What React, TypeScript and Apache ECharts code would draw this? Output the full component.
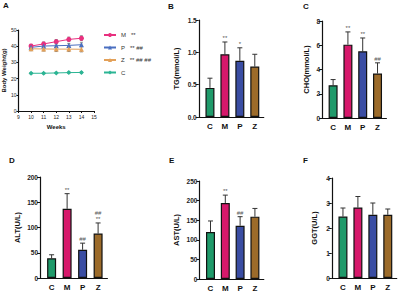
import React, { useEffect, useRef } from 'react';
import * as echarts from 'echarts';

// ---------- Panel A data ----------
const weeks = [10, 11, 12, 13, 14];
const weightM = [40.1, 41.4, 42.8, 44.2, 44.9];
const weightP = [39.3, 40.1, 40.3, 40.5, 40.9];
const weightZ = [38.4, 38.3, 38.2, 38.2, 38.1];
const weightC = [23.3, 23.3, 23.5, 23.7, 23.8];
const errM = [1.0, 1.2, 1.3, 1.4, 1.5];
const errP = [0.9, 1.0, 1.1, 1.1, 1.2];
const errZ = [1.2, 1.3, 1.5, 1.5, 1.6];
const errC = [0.4, 0.4, 0.4, 0.4, 0.4];
const lineNames = ['M', 'P', 'Z', 'C'];
const lineMarks = ['**', '** ##', '** ## ##', ''];

// ---------- Bar panels data ----------
const cats = ['C', 'M', 'P', 'Z'];
const tgMean = [0.45, 0.97, 0.87, 0.78];
const tgTop = [0.6, 1.16, 1.07, 0.97];
const tgSig = ['', '**', '*', ''];
const choMean = [2.7, 6.05, 5.5, 3.67];
const choTop = [3.17, 7.1, 6.6, 4.55];
const choSig = ['', '**', '**', '##'];
const altMean = [39, 137, 56, 88];
const altTop = [46, 167, 69, 109];
const altSig = ['', '**', '##', '##\n**'];
const astMean = [120, 194, 136, 159];
const astTop = [148, 214, 159, 180];
const astSig = ['', '**', '##', ''];
const ggtMean = [2.46, 2.82, 2.53, 2.53];
const ggtTop = [2.8, 3.26, 3.0, 2.76];
const ggtSig = ['', '', '', ''];

const FONT = 'Liberation Sans, Arial, sans-serif';
const barColors = ['#1f9a6a', '#d6186b', '#3a4da3', '#9c6b2a'];
const lineColors = ['#e8307f', '#4a6fc0', '#e3a15a', '#2bb594'];
const lineSymbols = ['circle', 'triangle', 'triangle', 'diamond'];

const App: React.FC = () => {
  const ref = useRef<HTMLDivElement>(null);

  useEffect(() => {
    if (!ref.current) return;
    const chart = echarts.init(ref.current, undefined, { renderer: 'svg' });

    const lineData = [weightM, weightP, weightZ, weightC];
    const lineErr = [errM, errP, errZ, errC];

    const panels = [
      { name: 'TG(mmol/L)', mean: tgMean, top: tgTop, sig: tgSig, max: 1.5, interval: 0.5, dec: 1,
        grid: { left: 198.75, top: 20, width: 65, height: 97 }, nameGap: 18 },
      { name: 'CHO(mmol/L)', mean: choMean, top: choTop, sig: choSig, max: 8, interval: 2, dec: 0,
        grid: { left: 322, top: 21, width: 64.4, height: 97 }, nameGap: 12 },
      { name: 'ALT(U/L)', mean: altMean, top: altTop, sig: altSig, max: 200, interval: 50, dec: 0,
        grid: { left: 40, top: 177, width: 67.4, height: 101 }, nameGap: 19 },
      { name: 'AST(U/L)', mean: astMean, top: astTop, sig: astSig, max: 250, interval: 50, dec: 0,
        grid: { left: 199.4, top: 181, width: 64.4, height: 98 }, nameGap: 19 },
      { name: 'GGT(U/L)', mean: ggtMean, top: ggtTop, sig: ggtSig, max: 4, interval: 1, dec: 0,
        grid: { left: 331.75, top: 178, width: 65, height: 100 }, nameGap: 13 },
    ];

    const axisLine = { show: true, onZero: false, lineStyle: { color: '#111', width: 1.2 } };

    const grids: any[] = [{ left: 14, top: 30, width: 80, height: 81 }];
    const xAxes: any[] = [{
      gridIndex: 0, type: 'value', min: 9, max: 15, interval: 1,
      name: 'Weeks', nameLocation: 'middle', nameGap: 13,
      nameTextStyle: { fontSize: 6, fontWeight: 'bold', color: '#111', fontFamily: FONT },
      axisLine, axisTick: { show: true, length: 2, lineStyle: { color: '#111' } },
      axisLabel: { fontSize: 5, margin: 3, color: '#222', fontFamily: FONT },
      splitLine: { show: false },
    }];
    const yAxes: any[] = [{
      gridIndex: 0, type: 'value', min: 0, max: 50, interval: 10,
      name: 'Body Weight(g)', nameLocation: 'middle', nameGap: 8,
      nameTextStyle: { fontSize: 6, fontWeight: 'bold', color: '#111', fontFamily: FONT },
      axisLine, axisTick: { show: true, length: 2, lineStyle: { color: '#111' } },
      axisLabel: { fontSize: 5, margin: 2, color: '#222', fontFamily: FONT },
      splitLine: { show: false },
    }];

    const series: any[] = [];
    lineNames.forEach((n, k) => {
      series.push({
        type: 'line', name: n, xAxisIndex: 0, yAxisIndex: 0,
        data: weeks.map((w, j) => [w, lineData[k][j]]),
        symbol: lineSymbols[k], symbolSize: 5,
        lineStyle: { color: lineColors[k], width: 1 },
        itemStyle: { color: lineColors[k] },
        z: 3,
      });
      series.push({
        type: 'custom', xAxisIndex: 0, yAxisIndex: 0,
        data: weeks.map((w, j) => [w, lineData[k][j], lineErr[k][j]]),
        renderItem: (params: any, api: any) => {
          const x = api.value(0), m = api.value(1), e = api.value(2);
          const a = api.coord([x, m - e]);
          const b = api.coord([x, m + e]);
          const c = 1.5;
          const st = { stroke: '#555', lineWidth: 0.7 };
          return {
            type: 'group', children: [
              { type: 'line', shape: { x1: a[0], y1: a[1], x2: b[0], y2: b[1] }, style: st },
              { type: 'line', shape: { x1: a[0] - c, y1: a[1], x2: a[0] + c, y2: a[1] }, style: st },
              { type: 'line', shape: { x1: b[0] - c, y1: b[1], x2: b[0] + c, y2: b[1] }, style: st },
            ],
          };
        },
        z: 2,
      });
    });

    panels.forEach((p, idx) => {
      const gi = idx + 1;
      grids.push(p.grid);
      xAxes.push({
        gridIndex: gi, type: 'value', min: -0.75, max: 3.6,
        axisLine, axisTick: { show: false }, splitLine: { show: false },
        axisLabel: {
          customValues: [0, 1, 2, 3],
          formatter: (v: number) => cats[Math.round(v)] ?? '',
          fontSize: 8, fontWeight: 'bold', color: '#111', margin: 5, fontFamily: FONT,
        },
      });
      yAxes.push({
        gridIndex: gi, type: 'value', min: 0, max: p.max, interval: p.interval,
        name: p.name, nameLocation: 'middle', nameGap: p.nameGap,
        nameTextStyle: { fontSize: 7.5, fontWeight: 'bold', color: '#111', fontFamily: FONT },
        axisLine, axisTick: { show: true, length: 3, lineStyle: { color: '#111', width: 1 } },
        axisLabel: {
          fontSize: 6.5, fontWeight: 'bold', color: '#222', margin: 2, fontFamily: FONT,
          formatter: (v: number) => v.toFixed(p.dec),
        },
        splitLine: { show: false },
      });
      series.push({
        type: 'bar', xAxisIndex: gi, yAxisIndex: gi, barWidth: 9,
        data: p.mean.map((v, j) => ({ value: [j, v], itemStyle: { color: barColors[j] } })),
        itemStyle: { borderColor: '#111', borderWidth: 1.2 },
        z: 2,
      });
      series.push({
        type: 'custom', xAxisIndex: gi, yAxisIndex: gi,
        data: p.mean.map((v, j) => [j, v, p.top[j]]),
        renderItem: (params: any, api: any) => {
          const x = api.value(0), m = api.value(1), t = api.value(2);
          const a = api.coord([x, m]);
          const b = api.coord([x, t]);
          const c = 2.5;
          const st = { stroke: '#333', lineWidth: 1 };
          const s = p.sig[params.dataIndex];
          const children: any[] = [
            { type: 'line', shape: { x1: a[0], y1: a[1], x2: b[0], y2: b[1] }, style: st },
            { type: 'line', shape: { x1: b[0] - c, y1: b[1], x2: b[0] + c, y2: b[1] }, style: st },
          ];
          if (s) {
            children.push({
              type: 'text', x: b[0], y: b[1] - 1,
              style: {
                text: s, align: 'center', verticalAlign: 'bottom',
                fontSize: 6, fill: '#555', fontFamily: FONT, lineHeight: 6,
              },
            });
          }
          return { type: 'group', children };
        },
        z: 1,
      });
    });

    const titleStyle = { fontSize: 8, fontWeight: 'bold', color: '#111', fontFamily: FONT };
    const letters = [
      { text: 'A', left: 3, top: 1 },
      { text: 'B', left: 168, top: 2 },
      { text: 'C', left: 303, top: 2 },
      { text: 'D', left: 9, top: 156 },
      { text: 'E', left: 169, top: 156 },
      { text: 'F', left: 303, top: 156 },
    ];

    chart.setOption({
      animation: false,
      backgroundColor: '#fff',
      title: letters.map((l) => ({ ...l, padding: 0, textStyle: titleStyle })),
      legend: {
        data: lineNames,
        orient: 'vertical', left: 103, top: 32, itemGap: 6.5,
        itemWidth: 12, itemHeight: 5, padding: 0,
        formatter: (n: string) => {
          const m = lineMarks[lineNames.indexOf(n)];
          return m ? `${n}   ${m}` : n;
        },
        textStyle: { fontSize: 6, color: '#333', fontFamily: FONT },
      },
      grid: grids,
      xAxis: xAxes,
      yAxis: yAxes,
      series,
    });

    return () => chart.dispose();
  }, []);

  return (
    <div
      ref={ref}
      style={{ position: 'absolute', left: 0, top: 0, width: 400, height: 292, background: '#fff' }}
    />
  );
};

export default App;
